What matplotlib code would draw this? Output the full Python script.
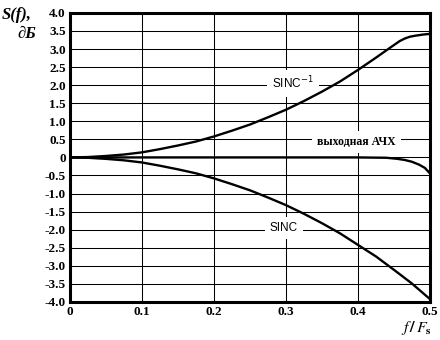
import numpy as np
import matplotlib
matplotlib.use("Agg")
from matplotlib import pyplot as plt

# данные
f = [0, 0.025, 0.05, 0.075, 0.1, 0.125, 0.15, 0.175, 0.2, 0.225, 0.25,
     0.275, 0.3, 0.325, 0.35, 0.375, 0.4, 0.425, 0.45, 0.475, 0.5]
sinc_db = [0, -0.01, -0.04, -0.08, -0.14, -0.23, -0.33, -0.44, -0.58, -0.74, -0.91,
           -1.11, -1.32, -1.56, -1.82, -2.10, -2.42, -2.74, -3.11, -3.49, -3.92]

f_inv = [0, 0.025, 0.05, 0.075, 0.1, 0.125, 0.15, 0.175, 0.2, 0.225, 0.25,
         0.275, 0.3, 0.325, 0.35, 0.375, 0.4, 0.425, 0.445, 0.458, 0.465,
         0.472, 0.48, 0.49, 0.5]
sinc_inv_db = [0, 0.01, 0.04, 0.08, 0.14, 0.23, 0.33, 0.44, 0.58, 0.74, 0.91,
               1.11, 1.32, 1.56, 1.82, 2.10, 2.42, 2.76, 3.04, 3.22, 3.29,
               3.34, 3.37, 3.40, 3.42]

f_out = [0, 0.1, 0.2, 0.3, 0.4, 0.44, 0.455, 0.465, 0.475, 0.485, 0.493, 0.5]
out_db = [0, 0, 0, 0, 0, -0.01, -0.04, -0.07, -0.12, -0.2, -0.29, -0.44]

x_ticks = [0, 0.1, 0.2, 0.3, 0.4, 0.5]
x_labels = ["0", "0.1", "0.2", "0.3", "0.4", "0.5"]
y_ticks = np.arange(-4.0, 4.01, 0.5)
y_labels = ["0" if abs(v) < 1e-9 else f"{v:.1f}" for v in y_ticks]

fig = plt.figure(figsize=(4.4, 3.4), dpi=100)
ax = fig.add_axes([0.159, 0.112, 0.818, 0.85])

# кривые поверх подписей
ax.plot(f, sinc_db, color="black", lw=1.7, zorder=4)
ax.plot(f_inv, sinc_inv_db, color="black", lw=1.7, zorder=4)
ax.plot(f_out, out_db, color="black", lw=1.7, zorder=4)

ax.set_xlim(0, 0.5)
ax.set_ylim(-4, 4)
ax.set_xticks(x_ticks)
ax.set_xticklabels(x_labels, family="Liberation Serif", weight="bold", fontsize=9.5)
ax.set_yticks(y_ticks)
ax.set_yticklabels(y_labels, family="Liberation Serif", weight="bold", fontsize=9.5)
ax.tick_params(length=0, pad=3)
ax.grid(True, color="black", lw=0.75)
for s in ax.spines.values():
    s.set_linewidth(2.2)

box = dict(facecolor="white", edgecolor="none", pad=3.5)
ax.text(0.297, -1.95, "SINC", family="Liberation Sans", fontsize=8.5,
        ha="center", va="center", bbox=box, zorder=3)
ax.text(0.31, 2.05, "SINC$^{-1}$", family="Liberation Sans", fontsize=8.5,
        ha="center", va="center", bbox=box, zorder=3)
ax.text(0.398, 0.42, "выходная АЧХ", family="Liberation Serif", weight="bold",
        fontsize=8.5, ha="center", va="center", bbox=box, zorder=3)

fig.text(0.005, 0.955, "S(f),", family="Liberation Serif", style="italic",
         weight="bold", fontsize=12, va="center")
fig.text(0.04, 0.9, "∂Б", family="Liberation Serif", style="italic",
         weight="bold", fontsize=12, va="center")
fig.text(0.982, 0.008, "$\\mathbf{\\mathit{f}\\,/\\,\\mathit{F}_s}$", fontsize=11.5,
         ha="right", va="bottom", math_fontfamily="stix")

fig.savefig("out.png", dpi=100)
